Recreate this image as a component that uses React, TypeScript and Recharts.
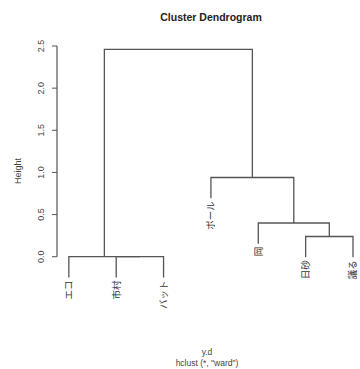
import React from 'react'
import { ComposedChart, Line, Scatter, XAxis, YAxis, ReferenceLine } from 'recharts'

// leaves in dendrogram order
const leafLabels = ['エコ', '市村', 'バット', 'ボール', '岡', '日砂', '議る']
// hclust-style merge table: negative = leaf (1-based, in order), positive = earlier merge
const mergeLeft = [-2, -1, -6, -5, -4, 2]
const mergeRight = [-3, 1, -7, 3, 4, 5]
const mergeHeights = [0, 0, 0.24, 0.4, 0.94, 2.46]
const yTicks = [0, 0.5, 1, 1.5, 2, 2.5]

const FONT = "'Liberation Sans', Arial, sans-serif"
const LINE = '#555'

const hang = 0.1 * Math.max(...mergeHeights)

const nodeX: number[] = []
const segments = mergeHeights.map((h, i) => {
  const l = mergeLeft[i]
  const r = mergeRight[i]
  const xl = l < 0 ? -l : nodeX[l - 1]
  const xr = r < 0 ? -r : nodeX[r - 1]
  const bl = l < 0 ? h - hang : mergeHeights[l - 1]
  const br = r < 0 ? h - hang : mergeHeights[r - 1]
  nodeX[i] = (xl + xr) / 2
  return [
    { x: xl, y: bl },
    { x: xl, y: h },
    { x: xr, y: h },
    { x: xr, y: br },
  ]
})

const leafTips = leafLabels.map((name, i) => {
  const idx = mergeHeights.findIndex((_, m) => mergeLeft[m] === -(i + 1) || mergeRight[m] === -(i + 1))
  return { x: i + 1, y: mergeHeights[idx] - hang, name }
})

const LeafLabel = (props: any) => {
  const { cx, cy, payload } = props
  const tx = cx + 3.5
  const ty = cy + 3
  return (
    <text
      x={tx}
      y={ty}
      transform={`rotate(-90, ${tx}, ${ty})`}
      textAnchor="end"
      fontSize={9.5}
      fill="#333"
      fontFamily="'Noto Sans CJK JP', sans-serif"
    >
      {payload.name}
    </text>
  )
}

const HeightTick = (props: any) => {
  const { x, y, payload } = props
  const tx = x - 6
  return (
    <text x={tx} y={y} transform={`rotate(-90, ${tx}, ${y})`} textAnchor="middle" fontSize={9} fill="#444" fontFamily={FONT}>
      {payload.value.toFixed(1)}
    </text>
  )
}

export default function App() {
  return (
    <div style={{ position: 'absolute', left: 0, top: 0, width: 360, height: 369, background: '#fff' }}>
      <ComposedChart width={360} height={369} margin={{ top: 46, right: 7, bottom: 87, left: 0 }}>
        <XAxis type="number" dataKey="x" domain={[0.75, 7]} hide />
        <YAxis
          type="number"
          dataKey="y"
          domain={[-0.3, 2.5]}
          ticks={yTicks}
          width={57}
          axisLine={false}
          tickSize={5}
          tickLine={{ stroke: LINE }}
          tick={<HeightTick />}
        />
        <ReferenceLine segment={[{ x: 0.75, y: 0 }, { x: 0.75, y: 2.5 }]} stroke={LINE} strokeWidth={1.2} ifOverflow="visible" />
        {segments.map((seg, i) => (
          <Line
            key={i}
            data={seg}
            dataKey="y"
            type="linear"
            stroke={LINE}
            strokeWidth={1.3}
            dot={false}
            activeDot={false}
            isAnimationActive={false}
          />
        ))}
        <Scatter data={leafTips} dataKey="y" shape={<LeafLabel />} isAnimationActive={false} />
      </ComposedChart>
      <svg width={360} height={369} style={{ position: 'absolute', left: 0, top: 0, pointerEvents: 'none' }}>
        <text x={211} y={21} textAnchor="middle" fontSize={10.5} fontWeight="bold" fill="#222" fontFamily={FONT}>
          Cluster Dendrogram
        </text>
        <text x={21} y={171} transform="rotate(-90, 21, 171)" textAnchor="middle" fontSize={9} fill="#444" fontFamily={FONT}>
          Height
        </text>
        <text x={207} y={355} textAnchor="middle" fontSize={8.5} fill="#444" fontFamily={FONT}>
          y.d
        </text>
        <text x={207} y={366} textAnchor="middle" fontSize={8.5} fill="#444" fontFamily={FONT}>
          hclust (*, "ward")
        </text>
      </svg>
    </div>
  )
}
